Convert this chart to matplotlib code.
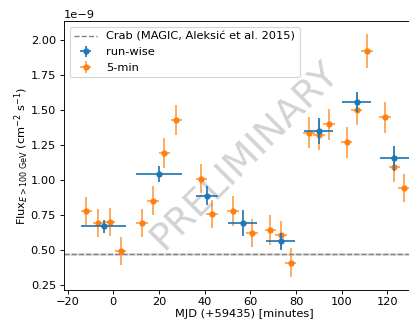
import numpy as np
import matplotlib
matplotlib.use("Agg")
import matplotlib.pyplot as plt
from matplotlib.colors import to_rgba

# Crab reference flux (1e-9 cm^-2 s^-1)
crab_flux = 0.47
crab_err = 0.012

# run-wise light curve
t_run = [-4.3, 20.0, 41.0, 56.6, 73.3, 90.0, 106.6, 123.0]
t_run_err = [10.0, 10.0, 5.0, 6.5, 6.3, 6.4, 6.4, 6.3]
f_run = [0.671, 1.045, 0.890, 0.695, 0.564, 1.352, 1.561, 1.157]
f_run_err = [0.045, 0.056, 0.07, 0.09, 0.06, 0.09, 0.07, 0.09]

# 5-min light curve
t_5 = [-11.8, -6.6, -1.6, 3.2, 12.5, 17.4, 22.4, 27.6, 38.5, 43.3, 52.4, 60.8,
       68.7, 73.4, 77.6, 85.6, 90.0, 94.4, 102.2, 106.6, 111.0, 118.9, 123.0, 127.2]
f_5 = [0.781, 0.693, 0.700, 0.495, 0.693, 0.854, 1.193, 1.431, 1.011, 0.759, 0.783, 0.626,
       0.645, 0.611, 0.411, 1.340, 1.323, 1.400, 1.272, 1.502, 1.925, 1.450, 1.097, 0.943]
f_5_err = [0.10, 0.10, 0.10, 0.10, 0.10, 0.105, 0.107, 0.11, 0.105, 0.10, 0.107, 0.10,
           0.11, 0.10, 0.105, 0.11, 0.11, 0.11, 0.11, 0.11, 0.12, 0.11, 0.11, 0.10]
t_5_err = 2.5

scale = 1e-9
dpi = 82

fig = plt.figure(figsize=(409 / dpi, 322 / dpi), dpi=dpi)
ax = fig.add_axes([64 / 409, 31.7 / 322, 361.5 / 409, 269 / 322])

ax.axhline(crab_flux * scale, color='gray', ls='--', lw=1.2,
           label='Crab (MAGIC, Aleksić et al. 2015)')
ax.axhspan((crab_flux - crab_err) * scale, (crab_flux + crab_err) * scale,
           color='gray', alpha=0.2, lw=0)

ax.errorbar(t_run, np.array(f_run) * scale, xerr=t_run_err,
            yerr=np.array(f_run_err) * scale, fmt='o', color='C0', ms=4.5,
            label='run-wise', zorder=4)
ax.errorbar(t_5, np.array(f_5) * scale, xerr=t_5_err,
            yerr=np.array(f_5_err) * scale, fmt='o', color='C1', ms=4.5,
            ecolor=to_rgba('C1', 0.75), label='5-min', zorder=3)

ax.text(0.5, 0.5, 'PRELIMINARY', transform=ax.transAxes, fontsize=33,
        color='gray', alpha=0.35, rotation=45, ha='center', va='center')

ax.set_xlim(-21.6, 136.7)
ax.set_ylim(0.214e-9, 2.136e-9)
ax.set_xticks([-20, 0, 20, 40, 60, 80, 100, 120])
ax.tick_params(axis='x', pad=2.5)
ax.set_xlabel('MJD (+59435) [minutes]', labelpad=2)
ax.set_ylabel(r'Flux$_{E > 100\ \mathrm{GeV}}$ (cm$^{-2}$ s$^{-1}$)', labelpad=0)
ax.legend(loc='upper left')

fig.savefig('out.png', dpi=dpi)
